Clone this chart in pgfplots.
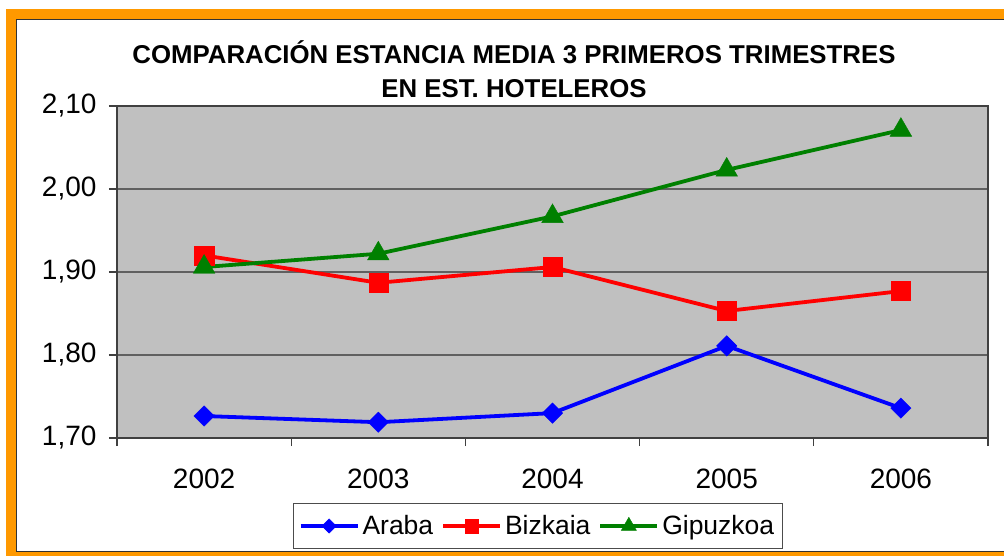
\documentclass[border=0pt]{standalone}
\usepackage{fontspec}
\setmainfont{Liberation Sans}
\usepackage{pgfplots}
\pgfplotsset{compat=1.18}
\definecolor{frameorange}{RGB}{255,153,0}
\definecolor{bggray}{RGB}{192,192,192}
\definecolor{gridgray}{RGB}{96,96,96}
\definecolor{serblue}{RGB}{0,0,255}
\definecolor{serred}{RGB}{255,0,0}
\definecolor{sergreen}{RGB}{0,128,0}
\begin{document}
\begin{tikzpicture}[x=1pt,y=1pt]
\useasboundingbox (0,0) rectangle (1004,555);
\fill[white] (0,0) rectangle (1004,555);
\draw[frameorange, line width=10pt] (11,540.5) rectangle (1020,-2);
\draw[black!80, line width=1pt] (16.5,535.5) rectangle (1015,3.5);
\node[font=\bfseries\fontsize{25.8}{34}\selectfont, align=center] at (514,486) {COMPARACIÓN ESTANCIA MEDIA 3 PRIMEROS TRIMESTRES\\EN EST. HOTELEROS};
\begin{axis}[
  at={(117pt,117pt)}, anchor=south west,
  width=871pt, height=332pt, scale only axis,
  xmin=-0.5, xmax=4.5, ymin=1.7, ymax=2.1,
  axis background/.style={fill=bggray},
  axis line style={draw=black!75, line width=1.2pt},
  xtick={-0.5,0.5,1.5,2.5,3.5,4.5}, xticklabels={},
  extra x ticks={0,1,2,3,4},
  extra x tick labels={2002,2003,2004,2005,2006},
  extra x tick style={major tick length=0pt, grid=none},
  ytick={1.7,1.8,1.9,2.0,2.1},
  tick pos=left,
  ymajorgrids,
  grid style={draw=gridgray, line width=1.2pt},
  tick align=outside, major tick length=8pt,
  tick style={draw=black!75, line width=1.2pt},
  tick label style={font=\fontsize{28}{30}\selectfont},
  yticklabel style={xshift=-9pt, /pgf/number format/.cd, use comma, fixed, fixed zerofill, precision=2, assume math mode=true},
  xticklabel style={yshift=-27pt},
  legend columns=-1,
  legend style={at={(0.4833,-0.2651)}, anchor=center, draw=black!70, line width=1pt,
    font=\fontsize{26.5}{30}\selectfont, inner xsep=5pt, inner ysep=9pt,
    nodes={inner sep=3pt},
    /tikz/every even column/.append style={column sep=5pt}},
  legend image code/.code={\draw[line width=3.8pt, mark repeat=2,mark phase=2,/tikz/every mark/.append style={scale=0.7, line width=0.4pt}] plot coordinates {(0pt,0pt) (28.5pt,0pt) (57pt,0pt)};},
]
\addplot[serblue, line width=3.8pt, mark=square*, mark size=7.2pt, mark options={rotate=45, line width=0.4pt, fill=serblue}]
  coordinates {(0,1.7265) (1,1.719) (2,1.730) (3,1.811) (4,1.736)};
\addlegendentry{Araba}
\addplot[serred, line width=3.8pt, mark=square*, mark size=9.6pt, mark options={line width=0.4pt, fill=serred}]
  coordinates {(0,1.920) (1,1.887) (2,1.906) (3,1.853) (4,1.877)};
\addlegendentry{Bizkaia}
\addplot[sergreen, line width=3.8pt, mark=triangle*, mark size=12.5pt, mark options={line width=0.4pt, fill=sergreen}]
  coordinates {(0,1.906) (1,1.922) (2,1.967) (3,2.023) (4,2.071)};
\addlegendentry{Gipuzkoa}
\end{axis}
\end{tikzpicture}
\end{document}
